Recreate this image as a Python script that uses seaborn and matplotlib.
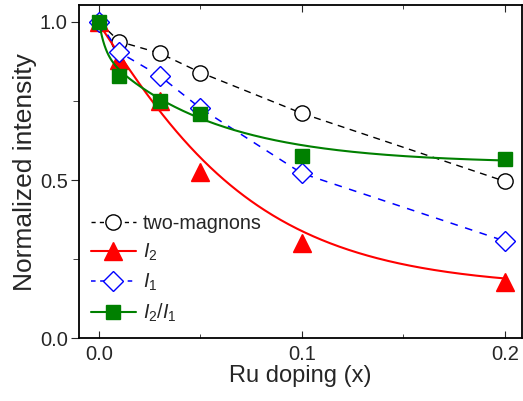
import numpy as np
import pandas as pd
import matplotlib
matplotlib.use("Agg")
import matplotlib.pyplot as plt
from matplotlib.lines import Line2D
import seaborn as sns

# ---- data ----
x = [0.0, 0.01, 0.03, 0.05, 0.1, 0.2]
two_magnons = [1.0, 0.938, 0.901, 0.840, 0.711, 0.496]
I2 = [1.0, 0.88, 0.75, 0.525, 0.30, 0.178]
I1 = [1.0, 0.904, 0.829, 0.727, 0.521, 0.307]
I2_over_I1 = [1.0, 0.829, 0.751, 0.708, 0.576, 0.565]

# fitted curves
fit_x = [0.0, 0.01, 0.03, 0.05, 0.1, 0.15, 0.2]
fit_I2 = [1.0, 0.88, 0.74, 0.558, 0.333, 0.247, 0.181]
fit_ratio = [1.0, 0.845, 0.76, 0.70, 0.605, 0.572, 0.566]

labels = ["two-magnons", r"$I_2$", r"$I_1$", r"$I_2/I_1$"]
x_ticks = [0.0, 0.1, 0.2]
y_ticks = [0.0, 0.5, 1.0]


def double_exp(xp, yp, xs):
    xp = np.asarray(xp, float)
    yp = np.asarray(yp, float)
    best = None
    ts = np.geomspace(0.003, 0.6, 50)
    for i, t1 in enumerate(ts):
        for t2 in ts[i + 1:]:
            M = np.column_stack([np.ones_like(xp), np.exp(-xp / t1), np.exp(-xp / t2)])
            coef = np.linalg.lstsq(M, yp, rcond=None)[0]
            err = np.sum((M @ coef - yp) ** 2)
            if best is None or err < best[0]:
                best = (err, t1, t2, coef)
    _, t1, t2, c = best
    return c[0] + c[1] * np.exp(-xs / t1) + c[2] * np.exp(-xs / t2)


sns.set_style("ticks")
plt.rcParams["font.family"] = ["Liberation Sans", "DejaVu Sans"]
plt.rcParams["mathtext.fontset"] = "custom"
plt.rcParams["mathtext.rm"] = "Liberation Sans"
plt.rcParams["mathtext.it"] = "Liberation Sans:italic"

fig = plt.figure(figsize=(5.23, 4.01), dpi=100)
ax = fig.add_axes([0.151, 0.157, 0.847, 0.830])

df = pd.DataFrame({"x": x, "tm": two_magnons, "I2": I2, "I1": I1, "r": I2_over_I1})
xs = np.linspace(0, 0.2, 300)
fits = pd.DataFrame({"x": xs,
                     "I2": double_exp(fit_x, fit_I2, xs),
                     "r": double_exp(fit_x, fit_ratio, xs)})

black, red, blue, green = "#000000", "#ff0000", "#0000ff", "#008000"

# two-magnons
sns.lineplot(data=df, x="x", y="tm", ax=ax, color=black, lw=1.0,
             dashes=False, linestyle=(0, (5, 4)))
ax.plot(df["x"], df["tm"], ls="none", marker="o", ms=11, mfc="white", mec=black, mew=1.0)
# I2
sns.lineplot(data=fits, x="x", y="I2", ax=ax, color=red, lw=1.5)
ax.plot(df["x"], df["I2"], ls="none", marker="^", ms=13, mfc=red, mec=red)
# I1
sns.lineplot(data=df, x="x", y="I1", ax=ax, color=blue, lw=1.1, linestyle=(0, (5, 5)))
ax.plot(df["x"], df["I1"], ls="none", marker="D", ms=10, mfc="white", mec=blue, mew=1.0)
# I2/I1
sns.lineplot(data=fits, x="x", y="r", ax=ax, color=green, lw=1.5)
ax.plot(df["x"], df["r"], ls="none", marker="s", ms=10.5, mfc=green, mec=green)

ax.set_xlim(-0.0099, 0.2085)
ax.set_ylim(0, 1.053)
ax.set_xticks(x_ticks)
ax.set_xticklabels(["0.0", "0.1", "0.2"])
ax.set_yticks(y_ticks)
ax.set_yticklabels(["0.0", "0.5", "1.0"])
ax.set_xticks([0.05, 0.15], minor=True)
ax.set_yticks([0.25, 0.75], minor=True)
ax.tick_params(axis="x", which="both", direction="in", top=True, labelsize=14.5, pad=5)
ax.tick_params(axis="x", which="major", length=5)
ax.tick_params(axis="x", which="minor", length=3)
ax.tick_params(axis="y", which="both", direction="out", labelsize=14.5, pad=2)
ax.tick_params(axis="y", which="major", length=6)
ax.tick_params(axis="y", which="minor", length=4)
for s in ax.spines.values():
    s.set_linewidth(1.3)
    s.set_color("black")
    s.set_visible(True)

ax.set_xlabel("Ru doping (x)", fontsize=17, labelpad=1)
ax.set_ylabel("Normalized intensity", fontsize=19, labelpad=2)

handles = [
    Line2D([], [], color=black, lw=1.0, ls=(0, (3, 3)), marker="o", ms=11, mfc="white", mec=black),
    Line2D([], [], color=red, lw=1.5, marker="^", ms=13, mfc=red, mec=red),
    Line2D([], [], color=blue, lw=1.1, ls=(0, (3, 3)), marker="D", ms=10, mfc="white", mec=blue),
    Line2D([], [], color=green, lw=1.5, marker="s", ms=10.5, mfc=green, mec=green),
]
ax.legend(handles, labels, loc="lower left", bbox_to_anchor=(-0.005, 0.0), frameon=False,
          fontsize=14.2, handlelength=2.3, handletextpad=0.35, labelspacing=0.45,
          borderaxespad=0.3)

fig.savefig("out.png", dpi=100)
